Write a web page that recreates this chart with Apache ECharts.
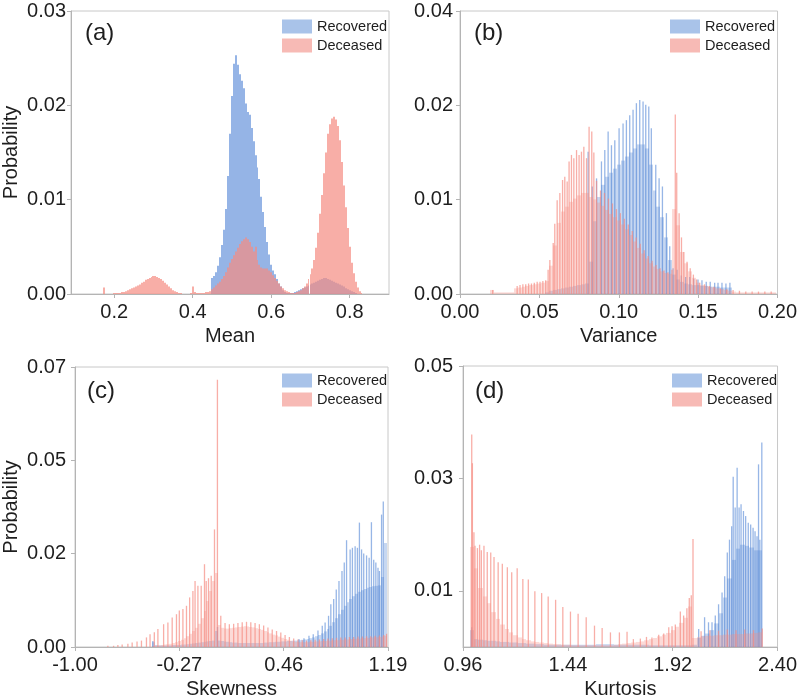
<!DOCTYPE html>
<html><head><meta charset="utf-8">
<script src="https://cdn.jsdelivr.net/npm/echarts@6/dist/echarts.min.js"></script>
<style>html,body{margin:0;padding:0;background:#fff}#c{width:800px;height:700px}</style>
</head><body><div id="c"></div>
<script>
// ---------------- DATA ----------------
// Panel (a) Mean — bins of width 0.005, [center, probability]
const meanRecFill = [[0.450,0.0017],[0.455,0.0019],[0.460,0.0023],[0.465,0.0030],[0.470,0.0039],[0.475,0.0052],[0.480,0.0068],[0.485,0.0090],[0.490,0.0125],[0.495,0.0170],[0.500,0.0210],[0.505,0.0244],[0.510,0.0253],[0.515,0.0243],[0.520,0.0233],[0.525,0.0226],[0.530,0.0218],[0.535,0.0202],[0.540,0.0193],[0.545,0.0190],[0.550,0.0176],[0.555,0.0162],[0.560,0.0147],[0.565,0.0134],[0.570,0.0122],[0.575,0.0103],[0.580,0.0087],[0.585,0.0071],[0.590,0.0055],[0.595,0.0042],[0.600,0.0031],[0.605,0.0025],[0.610,0.0021],[0.615,0.0016],[0.620,0.0011],[0.625,0.0008],[0.630,0.0004],[0.635,0.0002],[0.640,0.0001],[0.645,0.0001],[0.650,0.0001],[0.655,0.0001],[0.660,0.0002],[0.665,0.0003],[0.670,0.0004],[0.675,0.0005],[0.680,0.0006],[0.685,0.0007],[0.690,0.0008],[0.695,0.0009],[0.700,0.0010],[0.705,0.0011],[0.710,0.0012],[0.715,0.0013],[0.720,0.0014],[0.725,0.0015],[0.730,0.0016],[0.735,0.0017],[0.740,0.0017],[0.745,0.0016],[0.750,0.0015],[0.755,0.0014],[0.760,0.0013],[0.765,0.0012],[0.770,0.0011],[0.775,0.0010],[0.780,0.0009],[0.785,0.0008],[0.790,0.0006],[0.795,0.0005],[0.800,0.0004],[0.805,0.0003],[0.810,0.0002],[0.815,0.0001]];
const meanDecFill = [[0.175,0.0007],[0.200,0.0001],[0.205,0.0001],[0.210,0.0001],[0.215,0.0001],[0.220,0.0002],[0.225,0.0002],[0.230,0.0003],[0.235,0.0004],[0.240,0.0005],[0.245,0.0006],[0.250,0.0007],[0.255,0.0008],[0.260,0.0009],[0.265,0.0010],[0.270,0.0012],[0.275,0.0013],[0.280,0.0015],[0.285,0.0016],[0.290,0.0017],[0.295,0.0018],[0.300,0.0019],[0.305,0.0019],[0.310,0.0018],[0.315,0.0017],[0.320,0.0016],[0.325,0.0014],[0.330,0.0012],[0.335,0.0010],[0.340,0.0008],[0.345,0.0006],[0.350,0.0004],[0.355,0.0003],[0.360,0.0002],[0.365,0.0001],[0.370,0.0001],[0.395,0.0001],[0.400,0.0008],[0.405,0.0002],[0.410,0.0001],[0.415,0.0001],[0.420,0.0001],[0.425,0.0001],[0.430,0.0001],[0.435,0.0002],[0.440,0.0002],[0.445,0.0003],[0.450,0.0005],[0.455,0.0007],[0.460,0.0009],[0.465,0.0011],[0.470,0.0013],[0.475,0.0016],[0.480,0.0019],[0.485,0.0023],[0.490,0.0028],[0.495,0.0033],[0.500,0.0037],[0.505,0.0041],[0.510,0.0045],[0.515,0.0049],[0.520,0.0053],[0.525,0.0056],[0.530,0.0058],[0.535,0.0060],[0.540,0.0058],[0.545,0.0055],[0.550,0.0050],[0.555,0.0045],[0.560,0.0050],[0.565,0.0036],[0.570,0.0031],[0.575,0.0028],[0.580,0.0027],[0.585,0.0027],[0.590,0.0027],[0.595,0.0025],[0.600,0.0023],[0.605,0.0020],[0.610,0.0017],[0.615,0.0014],[0.620,0.0011],[0.625,0.0008],[0.630,0.0006],[0.635,0.0004],[0.640,0.0003],[0.645,0.0002],[0.650,0.0001],[0.655,0.0001],[0.660,0.0001],[0.665,0.0002],[0.670,0.0003],[0.675,0.0004],[0.680,0.0006],[0.685,0.0008],[0.690,0.0011],[0.695,0.0016],[0.700,0.0021],[0.705,0.0027],[0.710,0.0036],[0.715,0.0049],[0.720,0.0065],[0.725,0.0085],[0.730,0.0105],[0.735,0.0128],[0.740,0.0150],[0.745,0.0170],[0.750,0.0180],[0.755,0.0186],[0.760,0.0188],[0.765,0.0185],[0.770,0.0178],[0.775,0.0163],[0.780,0.0140],[0.785,0.0115],[0.790,0.0092],[0.795,0.0070],[0.800,0.0050],[0.805,0.0033],[0.810,0.0022],[0.815,0.0013],[0.820,0.0007],[0.825,0.0003],[0.830,0.0001]];

// Panel (b) Variance — fill bins of width 0.0025, spikes as [position, probability]
const varRecFill = [[0.0550,0.0002],[0.0575,0.0004],[0.0600,0.0005],[0.0625,0.0006],[0.0650,0.0007],[0.0675,0.0008],[0.0700,0.0009],[0.0725,0.0010],[0.0750,0.0011],[0.0775,0.0012],[0.0800,0.0013],[0.0825,0.0040],[0.0850,0.0090],[0.0875,0.0120],[0.0900,0.0135],[0.0925,0.0145],[0.0950,0.0150],[0.0975,0.0155],[0.1000,0.0160],[0.1025,0.0165],[0.1050,0.0170],[0.1075,0.0175],[0.1100,0.0180],[0.1125,0.0185],[0.1150,0.0185],[0.1175,0.0180],[0.1200,0.0160],[0.1225,0.0128],[0.1250,0.0108],[0.1275,0.0095],[0.1300,0.0070],[0.1325,0.0042],[0.1350,0.0024],[0.1375,0.0018],[0.1400,0.0015],[0.1425,0.0013],[0.1450,0.0012],[0.1475,0.0011],[0.1500,0.0011],[0.1525,0.0010],[0.1550,0.0010],[0.1575,0.0009],[0.1600,0.0009],[0.1625,0.0009],[0.1650,0.0008],[0.1675,0.0008],[0.1700,0.0008]];
const varRecSpikes = [[0.0807,0.0176],[0.0833,0.0133],[0.0860,0.0143],[0.0891,0.0164],[0.0912,0.0178],[0.0933,0.0201],[0.0954,0.0184],[0.0975,0.0190],[0.1002,0.0205],[0.1027,0.0211],[0.1048,0.0215],[0.1069,0.0221],[0.1090,0.0228],[0.1111,0.0236],[0.1132,0.0240],[0.1153,0.0238],[0.1170,0.0234],[0.1189,0.0232],[0.1205,0.0205],[0.1233,0.0160],[0.1254,0.0143],[0.1275,0.0133],[0.1300,0.0100],[0.1321,0.0059],[0.1342,0.0032],[0.1367,0.0030],[0.1394,0.0023],[0.1421,0.0021],[0.1447,0.0021],[0.1472,0.0019],[0.1499,0.0018],[0.1524,0.0017],[0.1551,0.0015],[0.1576,0.0015],[0.1604,0.0014],[0.1625,0.0014],[0.1650,0.0014],[0.1675,0.0013],[0.1700,0.0014]];
const varDecFill = [[0.0200,0.0005],[0.0225,0.0002],[0.0250,0.0002],[0.0275,0.0002],[0.0300,0.0002],[0.0325,0.0002],[0.0350,0.0007],[0.0375,0.0008],[0.0400,0.0009],[0.0425,0.0010],[0.0450,0.0011],[0.0475,0.0012],[0.0500,0.0013],[0.0525,0.0014],[0.0550,0.0016],[0.0575,0.0035],[0.0600,0.0060],[0.0625,0.0088],[0.0650,0.0102],[0.0675,0.0108],[0.0700,0.0114],[0.0725,0.0118],[0.0750,0.0122],[0.0775,0.0125],[0.0800,0.0125],[0.0825,0.0120],[0.0850,0.0117],[0.0875,0.0113],[0.0900,0.0109],[0.0925,0.0104],[0.0950,0.0099],[0.0975,0.0095],[0.1000,0.0091],[0.1025,0.0086],[0.1050,0.0080],[0.1075,0.0073],[0.1100,0.0065],[0.1125,0.0057],[0.1150,0.0050],[0.1175,0.0044],[0.1200,0.0038],[0.1225,0.0034],[0.1250,0.0031],[0.1275,0.0028],[0.1300,0.0026],[0.1325,0.0025],[0.1350,0.0105],[0.1375,0.0085],[0.1400,0.0052],[0.1425,0.0038],[0.1450,0.0028],[0.1475,0.0020],[0.1500,0.0014],[0.1525,0.0011],[0.1550,0.0010],[0.1575,0.0009],[0.1600,0.0008],[0.1625,0.0007],[0.1650,0.0006],[0.1675,0.0005],[0.1700,0.0004],[0.1725,0.0003],[0.1750,0.0002],[0.1775,0.0002],[0.1800,0.0002],[0.1825,0.0002],[0.1850,0.0002],[0.1875,0.0002],[0.1900,0.0002],[0.1925,0.0002],[0.1950,0.0002],[0.1975,0.0002]];
const varDecSpikes = [[0.0206,0.0005],[0.0360,0.0010],[0.0378,0.0011],[0.0396,0.0012],[0.0414,0.0012],[0.0432,0.0013],[0.0450,0.0013],[0.0468,0.0014],[0.0486,0.0015],[0.0504,0.0015],[0.0522,0.0016],[0.0540,0.0017],[0.0555,0.0030],[0.0566,0.0042],[0.0587,0.0063],[0.0597,0.0087],[0.0612,0.0116],[0.0629,0.0125],[0.0646,0.0141],[0.0660,0.0145],[0.0675,0.0139],[0.0687,0.0164],[0.0702,0.0172],[0.0717,0.0168],[0.0734,0.0178],[0.0750,0.0172],[0.0765,0.0176],[0.0780,0.0182],[0.0797,0.0168],[0.0813,0.0207],[0.0830,0.0201],[0.0843,0.0175],[0.0860,0.0140],[0.0885,0.0128],[0.0910,0.0125],[0.0935,0.0118],[0.0960,0.0112],[0.0985,0.0105],[0.1010,0.0100],[0.1035,0.0093],[0.1060,0.0086],[0.1085,0.0078],[0.1110,0.0070],[0.1135,0.0062],[0.1160,0.0054],[0.1185,0.0047],[0.1210,0.0041],[0.1235,0.0036],[0.1260,0.0032],[0.1285,0.0029],[0.1310,0.0027],[0.1335,0.0030],[0.1356,0.0222],[0.1365,0.0150],[0.1380,0.0100],[0.1395,0.0070],[0.1410,0.0052],[0.1430,0.0040],[0.1450,0.0032],[0.1470,0.0024],[0.1490,0.0018],[0.1510,0.0014],[0.1540,0.0012],[0.1570,0.0010],[0.1600,0.0009],[0.1640,0.0007],[0.1680,0.0006],[0.1720,0.0005],[0.1760,0.0004],[0.1800,0.0003],[0.1840,0.0003],[0.1880,0.0003],[0.1920,0.0003],[0.1960,0.0003]];

// Panel (c) Skewness — fill bins of width 0.02
const skewRecFill = [[-0.45,0.0012],[-0.43,0.0005],[-0.41,0.0004],[-0.39,0.0004],[-0.37,0.0004],[-0.35,0.0004],[-0.33,0.0004],[-0.31,0.0005],[-0.29,0.0005],[-0.27,0.0005],[-0.25,0.0006],[-0.23,0.0006],[-0.21,0.0007],[-0.19,0.0008],[-0.17,0.0009],[-0.15,0.0010],[-0.13,0.0011],[-0.11,0.0012],[-0.09,0.0013],[-0.07,0.0014],[-0.05,0.0015],[-0.03,0.0016],[-0.01,0.0040],[0.01,0.0016],[0.03,0.0015],[0.05,0.0014],[0.07,0.0013],[0.09,0.0012],[0.11,0.0011],[0.13,0.0011],[0.15,0.0010],[0.17,0.0010],[0.19,0.0010],[0.21,0.0010],[0.23,0.0010],[0.25,0.0010],[0.27,0.0010],[0.29,0.0010],[0.31,0.0010],[0.33,0.0011],[0.35,0.0011],[0.37,0.0012],[0.39,0.0012],[0.41,0.0013],[0.43,0.0013],[0.45,0.0014],[0.47,0.0014],[0.49,0.0015],[0.51,0.0015],[0.53,0.0016],[0.55,0.0016],[0.57,0.0017],[0.59,0.0018],[0.61,0.0019],[0.63,0.0020],[0.65,0.0022],[0.67,0.0024],[0.69,0.0027],[0.71,0.0030],[0.73,0.0034],[0.75,0.0039],[0.77,0.0045],[0.79,0.0053],[0.81,0.0062],[0.83,0.0072],[0.85,0.0082],[0.87,0.0093],[0.89,0.0103],[0.91,0.0112],[0.93,0.0120],[0.95,0.0127],[0.97,0.0133],[0.99,0.0138],[1.01,0.0142],[1.03,0.0145],[1.05,0.0148],[1.07,0.0150],[1.09,0.0152],[1.11,0.0153],[1.13,0.0154],[1.15,0.0175],[1.17,0.0260]];
const skewRecSpikes = [[-0.455,0.0015],[-0.003,0.0050],[0.567,0.0020],[0.602,0.0022],[0.637,0.0028],[0.667,0.0032],[0.700,0.0041],[0.730,0.0053],[0.750,0.0061],[0.774,0.0078],[0.790,0.0107],[0.810,0.0120],[0.828,0.0144],[0.847,0.0165],[0.868,0.0190],[0.884,0.0211],[0.900,0.0267],[0.925,0.0244],[0.941,0.0248],[0.960,0.0252],[0.976,0.0248],[0.990,0.0311],[1.005,0.0244],[1.020,0.0234],[1.040,0.0229],[1.058,0.0223],[1.074,0.0312],[1.090,0.0218],[1.105,0.0211],[1.120,0.0198],[1.130,0.0190],[1.145,0.0331],[1.157,0.0364]];
const skewDecFill = [[-0.45,0.0002],[-0.43,0.0003],[-0.41,0.0004],[-0.39,0.0005],[-0.37,0.0006],[-0.35,0.0007],[-0.33,0.0008],[-0.31,0.0010],[-0.29,0.0012],[-0.27,0.0015],[-0.25,0.0018],[-0.23,0.0022],[-0.21,0.0027],[-0.19,0.0033],[-0.17,0.0040],[-0.15,0.0048],[-0.13,0.0058],[-0.11,0.0072],[-0.09,0.0090],[-0.07,0.0115],[-0.05,0.0140],[-0.03,0.0165],[-0.01,0.0185],[0.01,0.0055],[0.03,0.0048],[0.05,0.0046],[0.07,0.0046],[0.09,0.0047],[0.11,0.0048],[0.13,0.0049],[0.15,0.0050],[0.17,0.0051],[0.19,0.0052],[0.21,0.0051],[0.23,0.0050],[0.25,0.0049],[0.27,0.0047],[0.29,0.0045],[0.31,0.0043],[0.33,0.0040],[0.35,0.0037],[0.37,0.0034],[0.39,0.0031],[0.41,0.0029],[0.43,0.0026],[0.45,0.0023],[0.47,0.0020],[0.49,0.0018],[0.51,0.0016],[0.53,0.0014],[0.55,0.0013],[0.57,0.0012],[0.59,0.0012],[0.61,0.0012],[0.63,0.0012],[0.65,0.0013],[0.67,0.0013],[0.69,0.0014],[0.71,0.0014],[0.73,0.0015],[0.75,0.0015],[0.77,0.0016],[0.79,0.0016],[0.81,0.0017],[0.83,0.0017],[0.85,0.0018],[0.87,0.0018],[0.89,0.0019],[0.91,0.0019],[0.93,0.0020],[0.95,0.0020],[0.97,0.0021],[0.99,0.0021],[1.01,0.0022],[1.03,0.0022],[1.05,0.0023],[1.07,0.0023],[1.09,0.0024],[1.11,0.0024],[1.13,0.0025],[1.15,0.0026],[1.17,0.0028]];
const skewDecSpikes = [[-0.77,0.0003],[-0.73,0.0003],[-0.70,0.0005],[-0.67,0.0006],[-0.63,0.0008],[-0.60,0.0011],[-0.566,0.0014],[-0.535,0.0016],[-0.50,0.0024],[-0.475,0.0032],[-0.445,0.0037],[-0.42,0.0045],[-0.38,0.0057],[-0.35,0.0061],[-0.32,0.0074],[-0.29,0.0082],[-0.27,0.0091],[-0.245,0.0095],[-0.22,0.0103],[-0.198,0.0124],[-0.175,0.0140],[-0.16,0.0165],[-0.14,0.0153],[-0.117,0.0153],[-0.094,0.0207],[-0.082,0.0165],[-0.066,0.0172],[-0.047,0.0178],[-0.024,0.0294],[-0.0035,0.0668],[0.02,0.0078],[0.05,0.0060],[0.08,0.0057],[0.11,0.0058],[0.14,0.0060],[0.17,0.0062],[0.20,0.0063],[0.23,0.0062],[0.26,0.0060],[0.29,0.0057],[0.32,0.0054],[0.35,0.0049],[0.38,0.0044],[0.41,0.0040],[0.44,0.0036],[0.47,0.0030],[0.50,0.0025],[0.53,0.0021],[0.56,0.0019],[0.59,0.0017],[0.62,0.0016],[0.65,0.0017],[0.68,0.0018],[0.71,0.0019],[0.74,0.0020],[0.77,0.0021],[0.80,0.0022],[0.83,0.0023],[0.86,0.0024],[0.89,0.0024],[0.92,0.0025],[0.95,0.0025],[0.98,0.0026],[1.01,0.0026],[1.04,0.0027],[1.07,0.0027],[1.10,0.0028],[1.13,0.0029],[1.16,0.0030],[1.18,0.0033]];

// Panel (d) Kurtosis — fill bins of width 0.02
const kurtRecFill = [[1.00,0.0030],[1.02,0.0014],[1.04,0.0013],[1.06,0.0012],[1.08,0.0011],[1.10,0.0011],[1.12,0.0010],[1.14,0.0009],[1.16,0.0009],[1.18,0.0008],[1.20,0.0008],[1.22,0.0007],[1.24,0.0007],[1.26,0.0006],[1.28,0.0006],[1.30,0.0005],[1.32,0.0005],[1.34,0.0004],[1.36,0.0004],[1.38,0.0004],[1.40,0.0004],[1.42,0.0004],[1.44,0.0004],[1.46,0.0004],[1.48,0.0004],[1.50,0.0004],[1.52,0.0004],[1.54,0.0004],[1.56,0.0004],[1.58,0.0005],[1.60,0.0005],[1.62,0.0005],[1.64,0.0005],[1.66,0.0004],[1.68,0.0004],[1.70,0.0004],[1.72,0.0004],[1.74,0.0004],[1.76,0.0004],[1.78,0.0004],[1.80,0.0004],[1.82,0.0003],[1.84,0.0003],[1.86,0.0003],[1.88,0.0003],[1.90,0.0003],[1.92,0.0003],[1.94,0.0003],[1.96,0.0003],[1.98,0.0003],[2.00,0.0003],[2.02,0.0004],[2.04,0.0016],[2.06,0.0020],[2.08,0.0024],[2.10,0.0030],[2.12,0.0042],[2.14,0.0060],[2.16,0.0088],[2.18,0.0122],[2.20,0.0155],[2.22,0.0175],[2.24,0.0182],[2.26,0.0180],[2.28,0.0177],[2.30,0.0172],[2.32,0.0172]];
const kurtRecSpikes = [[1.000,0.0035],[2.039,0.0032],[2.066,0.0053],[2.084,0.0044],[2.100,0.0044],[2.115,0.0056],[2.130,0.0076],[2.146,0.0097],[2.158,0.0126],[2.170,0.0168],[2.180,0.0191],[2.190,0.0215],[2.197,0.0303],[2.206,0.0248],[2.215,0.0319],[2.224,0.0248],[2.233,0.0254],[2.244,0.0242],[2.254,0.0233],[2.266,0.0221],[2.277,0.0218],[2.288,0.0212],[2.297,0.0206],[2.306,0.0197],[2.313,0.0325],[2.319,0.0191],[2.328,0.0364]];
const kurtDecFill = [[1.00,0.0178],[1.02,0.0140],[1.04,0.0105],[1.06,0.0090],[1.08,0.0078],[1.10,0.0062],[1.12,0.0050],[1.14,0.0040],[1.16,0.0032],[1.18,0.0026],[1.20,0.0021],[1.22,0.0017],[1.24,0.0014],[1.26,0.0012],[1.28,0.0010],[1.30,0.0009],[1.32,0.0008],[1.34,0.0007],[1.36,0.0006],[1.38,0.0005],[1.40,0.0005],[1.42,0.0004],[1.44,0.0004],[1.46,0.0003],[1.48,0.0003],[1.50,0.0003],[1.52,0.0003],[1.54,0.0003],[1.56,0.0003],[1.58,0.0003],[1.60,0.0003],[1.62,0.0003],[1.64,0.0003],[1.66,0.0004],[1.68,0.0005],[1.70,0.0006],[1.72,0.0007],[1.74,0.0008],[1.76,0.0009],[1.78,0.0010],[1.80,0.0012],[1.82,0.0014],[1.84,0.0016],[1.86,0.0019],[1.88,0.0022],[1.90,0.0025],[1.92,0.0030],[1.94,0.0036],[1.96,0.0043],[1.98,0.0052],[2.00,0.0072],[2.02,0.0016],[2.04,0.0018],[2.06,0.0019],[2.08,0.0020],[2.10,0.0020],[2.12,0.0021],[2.14,0.0021],[2.16,0.0022],[2.18,0.0022],[2.20,0.0023],[2.22,0.0023],[2.24,0.0023],[2.26,0.0024],[2.28,0.0024],[2.30,0.0025],[2.32,0.0026]];
const kurtDecSpikes = [[1.000,0.0378],[1.003,0.0327],[1.010,0.0204],[1.015,0.0180],[1.026,0.0176],[1.036,0.0182],[1.044,0.0172],[1.056,0.0180],[1.071,0.0169],[1.087,0.0168],[1.102,0.0160],[1.121,0.0151],[1.140,0.0148],[1.163,0.0142],[1.183,0.0133],[1.208,0.0140],[1.234,0.0121],[1.259,0.0120],[1.289,0.0099],[1.320,0.0096],[1.350,0.0090],[1.384,0.0084],[1.417,0.0071],[1.452,0.0063],[1.487,0.0059],[1.524,0.0053],[1.562,0.0038],[1.597,0.0034],[1.635,0.0026],[1.676,0.0026],[1.711,0.0027],[1.740,0.0014],[1.772,0.0015],[1.800,0.0018],[1.825,0.0017],[1.856,0.0022],[1.879,0.0024],[1.902,0.0035],[1.917,0.0037],[1.932,0.0040],[1.955,0.0063],[1.970,0.0056],[1.985,0.0069],[1.996,0.0087],[2.005,0.0092],[2.013,0.0192],[2.050,0.0028],[2.090,0.0030],[2.130,0.0029],[2.170,0.0031],[2.210,0.0030],[2.250,0.0031],[2.290,0.0030],[2.330,0.0033]];

// Axis ticks and labels
const meanTicks = [0.2,0.4,0.6,0.8], meanTickLabels = ['0.2','0.4','0.6','0.8'];
const varTicks = [0,0.05,0.10,0.15,0.20], varTickLabels = ['0.00','0.05','0.10','0.15','0.20'];
const skewTicks = [-1.00,-0.27,0.46,1.19], skewTickLabels = ['-1.00','-0.27','0.46','1.19'];
const kurtTicks = [0.96,1.44,1.92,2.40], kurtTickLabels = ['0.96','1.44','1.92','2.40'];
const probTicksA = [0,0.01,0.02,0.03], probLabelsA = ['0.00','0.01','0.02','0.03'];
const probTicksB = [0,0.011667,0.023333,0.035], probLabelsB = ['0.00','0.01','0.02','0.04'];
const probTicksC = [0,0.023333,0.046667,0.07], probLabelsC = ['0.00','0.02','0.05','0.07'];
const probTicksD = [0.01,0.03,0.05], probLabelsD = ['0.01','0.03','0.05'];
const seriesNames = ['Recovered','Deceased'];
const panelLabels = ['(a)','(b)','(c)','(d)'];
const axisNames = ['Mean','Variance','Skewness','Kurtosis'];

// ---------------- STYLE ----------------
const FF = 'Liberation Sans, Arial, sans-serif';
const TXT = '#1e1e1e';
const AX = '#b4b4b4';
const rgba = (c,a) => `rgba(${c[0]},${c[1]},${c[2]},${a})`;
const BLUE = [66,122,210], PINK = [245,140,130];

function lab(ticks, labels){
  return v => { let b=0; for (let i=1;i<ticks.length;i++) if (Math.abs(ticks[i]-v) < Math.abs(ticks[b]-v)) b=i; return labels[b]; };
}
function bars(name, data, gi, binW, color){
  return {
    type:'custom', name, xAxisIndex:gi, yAxisIndex:gi, data, clip:true, silent:true,
    itemStyle:{color}, encode:{x:0,y:1},
    renderItem:function(params, api){
      const x = api.value(0), y = api.value(1);
      const base = api.coord([x,0]), top = api.coord([x,y]);
      let x0, w;
      if (binW) {
        x0 = Math.round(api.coord([x-binW/2,0])[0]);
        const x1 = Math.round(api.coord([x+binW/2,0])[0]);
        w = Math.max(1, x1 - x0);
      } else { w = 1.3; x0 = base[0] - w/2; }
      return {type:'rect', shape:{x:x0, y:top[1], width:w, height:base[1]-top[1]}, style:{fill:color}};
    }
  };
}
function xAx(gi, min, max, ticks, labels, name){
  return {type:'value', gridIndex:gi, min, max, name, nameLocation:'middle', nameGap:32,
    nameTextStyle:{fontSize:20, color:TXT, fontFamily:FF},
    axisLine:{show:true, onZero:false, lineStyle:{color:AX}},
    axisTick:{show:true, length:4, customValues:ticks, lineStyle:{color:AX}},
    axisLabel:{customValues:ticks, formatter:lab(ticks,labels), fontSize:20, color:TXT, fontFamily:FF, margin:8},
    splitLine:{show:false}};
}
function yAx(gi, min, max, ticks, labels, name, margin, nameGap){
  return {type:'value', gridIndex:gi, min, max, name, nameLocation:'middle', nameGap, nameRotate:90,
    nameTextStyle:{fontSize:20, color:TXT, fontFamily:FF},
    axisLine:{show:true, onZero:false, lineStyle:{color:AX}},
    axisTick:{show:true, length:4, customValues:ticks, lineStyle:{color:AX}},
    axisLabel:{customValues:ticks, formatter:lab(ticks,labels), fontSize:20, color:TXT, fontFamily:FF, margin},
    splitLine:{show:false}};
}
function legend(left, top){
  return {orient:'vertical', left, top, padding:0, itemGap:4, itemWidth:30, itemHeight:14, icon:'rect', selectedMode:false,
    textStyle:{fontSize:14.5, color:TXT, fontFamily:FF},
    data:[{name:seriesNames[0], itemStyle:{color:'#a9c3e9'}},{name:seriesNames[1], itemStyle:{color:'#f7bab5'}}]};
}
const gridBox = {show:true, borderColor:'#c8c8c8', borderWidth:1};
const BF = 0.3, BS = 0.55, PF = 0.32, PS = 0.7;

const option = {
  animation:false,
  backgroundColor:'#fff',
  grid:[
    Object.assign({left:69, top:11, width:320, height:283}, gridBox),
    Object.assign({left:460, top:11, width:318, height:283}, gridBox),
    Object.assign({left:73, top:367, width:315, height:281}, gridBox),
    Object.assign({left:463, top:366, width:315, height:282}, gridBox)
  ],
  xAxis:[
    xAx(0, 0.09, 0.9, meanTicks, meanTickLabels, axisNames[0]),
    xAx(1, 0, 0.2, varTicks, varTickLabels, axisNames[1]),
    xAx(2, -1, 1.19, skewTicks, skewTickLabels, axisNames[2]),
    xAx(3, 0.96, 2.40, kurtTicks, kurtTickLabels, axisNames[3])
  ],
  yAxis:[
    yAx(0, 0, 0.03, probTicksA, probLabelsA, 'Probability', 5, 50),
    yAx(1, 0, 0.035, probTicksB, probLabelsB, '', 7, 50),
    yAx(2, 0, 0.07, probTicksC, probLabelsC, 'Probability', 9, 54),
    yAx(3, 0, 0.05, probTicksD, probLabelsD, '', 10, 50)
  ],
  legend:[legend(282,19), legend(670,19), legend(282,373), legend(672,373)],
  graphic:[
    {type:'text', left:85, top:21, style:{text:panelLabels[0], fontSize:24, fill:TXT, fontFamily:FF}},
    {type:'text', left:474, top:21, style:{text:panelLabels[1], fontSize:24, fill:TXT, fontFamily:FF}},
    {type:'text', left:87, top:379, style:{text:panelLabels[2], fontSize:24, fill:TXT, fontFamily:FF}},
    {type:'text', left:475, top:379, style:{text:panelLabels[3], fontSize:24, fill:TXT, fontFamily:FF}}
  ],
  series:[
    bars(seriesNames[0], meanRecFill, 0, 0.005, rgba(BLUE,0.56)),
    bars(seriesNames[1], meanDecFill, 0, 0.005, rgba(PINK,0.7)),

    bars(seriesNames[0], varRecFill, 1, 0.0025, rgba(BLUE,BF)),
    bars(seriesNames[0], varRecSpikes, 1, 0, rgba(BLUE,BS)),
    bars(seriesNames[1], varDecFill, 1, 0.0025, rgba(PINK,PF)),
    bars(seriesNames[1], varDecSpikes, 1, 0, rgba(PINK,PS)),

    bars(seriesNames[0], skewRecFill, 2, 0.02, rgba(BLUE,BF)),
    bars(seriesNames[0], skewRecSpikes, 2, 0, rgba(BLUE,BS)),
    bars(seriesNames[1], skewDecFill, 2, 0.02, rgba(PINK,PF)),
    bars(seriesNames[1], skewDecSpikes, 2, 0, rgba(PINK,PS)),

    bars(seriesNames[0], kurtRecFill, 3, 0.02, rgba(BLUE,BF)),
    bars(seriesNames[0], kurtRecSpikes, 3, 0, rgba(BLUE,BS)),
    bars(seriesNames[1], kurtDecFill, 3, 0.02, rgba(PINK,PF)),
    bars(seriesNames[1], kurtDecSpikes, 3, 0, rgba(PINK,PS))
  ]
};
const chart = echarts.init(document.getElementById('c'), null, {renderer:'canvas'});
chart.setOption(option);
</script></body></html>
